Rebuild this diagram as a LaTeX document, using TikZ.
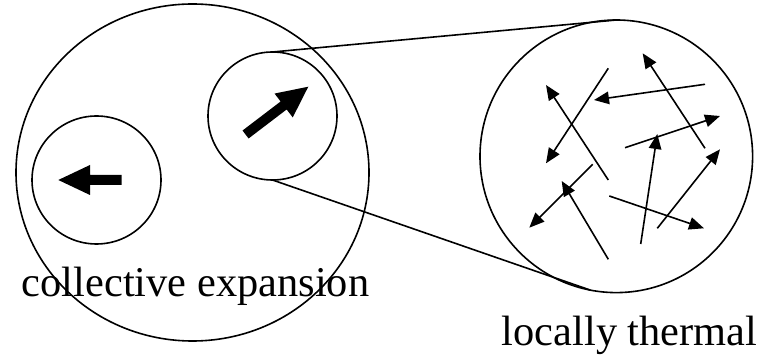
\documentclass[tikz,border=0pt]{standalone}
\usepackage{fontspec}
\setmainfont{Liberation Serif}
\usetikzlibrary{arrows.meta,shapes.geometric}
\begin{document}
\begin{tikzpicture}[x=1pt,y=-1pt,
  ring/.style={draw, line width=1.6pt, inner sep=0pt, outer sep=0pt},
  thin/.style={line width=1.6pt, -{Triangle[length=15pt,width=12.5pt]}},
  lbl/.style={inner sep=0pt, anchor=base west, font=\fontsize{42.4}{50}\selectfont},
  bigtip/.style={fill=black}
]
\useasboundingbox (0,0) rectangle (763,355);
% circles
\node[ring, ellipse, minimum width=353pt, minimum height=337pt] (big) at (192.5,172.5) {};
\node[ring, ellipse, minimum width=129pt, minimum height=128pt] (left) at (96.5,180) {};
\node[ring, ellipse, minimum width=129pt, minimum height=128pt] (up) at (272.5,116) {};
\node[ring, circle, minimum size=272.6pt] (R) at (616.3,156.3) {};
% tangent connectors
\draw[line width=1.6pt] (up.north) -- (R.north);
\draw[line width=1.6pt] (up.south) -- (R.259.7);
% big arrows
\begin{scope}[shift={(58.3,180)}, rotate=180]
  \fill (0,0) -- (-31.7,15) -- (-31.7,5) -- (-63.4,5) -- (-63.4,-5) -- (-31.7,-5) -- (-31.7,-15) -- cycle;
\end{scope}
\begin{scope}[shift={(308.3,86.7)}, rotate=37.3]
  \fill (0,0) -- (-31,15) -- (-31,5) -- (-78.9,5) -- (-78.9,-5) -- (-31,-5) -- (-31,-15) -- cycle;
\end{scope}
% thermal arrows
\coordinate (t1) at (608.3,68.3);  \coordinate (h1) at (546,163.3);
\coordinate (t2) at (608.3,180);   \coordinate (h2) at (546,85);
\coordinate (t3) at (705,84.3);    \coordinate (h3) at (594,100);
\coordinate (t4) at (705,148.3);   \coordinate (h4) at (642.7,53.3);
\coordinate (t5) at (625,147.7);   \coordinate (h5) at (720,116);
\coordinate (t6) at (640.7,244);   \coordinate (h6) at (657.3,134);
\coordinate (t7) at (657.3,228.3); \coordinate (h7) at (720,149.3);
\coordinate (t8) at (609.3,196);   \coordinate (h8) at (704,228.3);
\coordinate (t9) at (592.7,164.3); \coordinate (h9) at (529.3,227.7);
\coordinate (t10) at (608.3,259.3);\coordinate (h10) at (561.7,181);
\foreach \i in {1,...,10} \draw[thin] (t\i) -- (h\i);
% labels
\node[lbl] (ce) at (21.7,296.7) {collective expansion};
\node[lbl] (lt) at (501.7,345) {locally thermal};
\end{tikzpicture}
\end{document}
